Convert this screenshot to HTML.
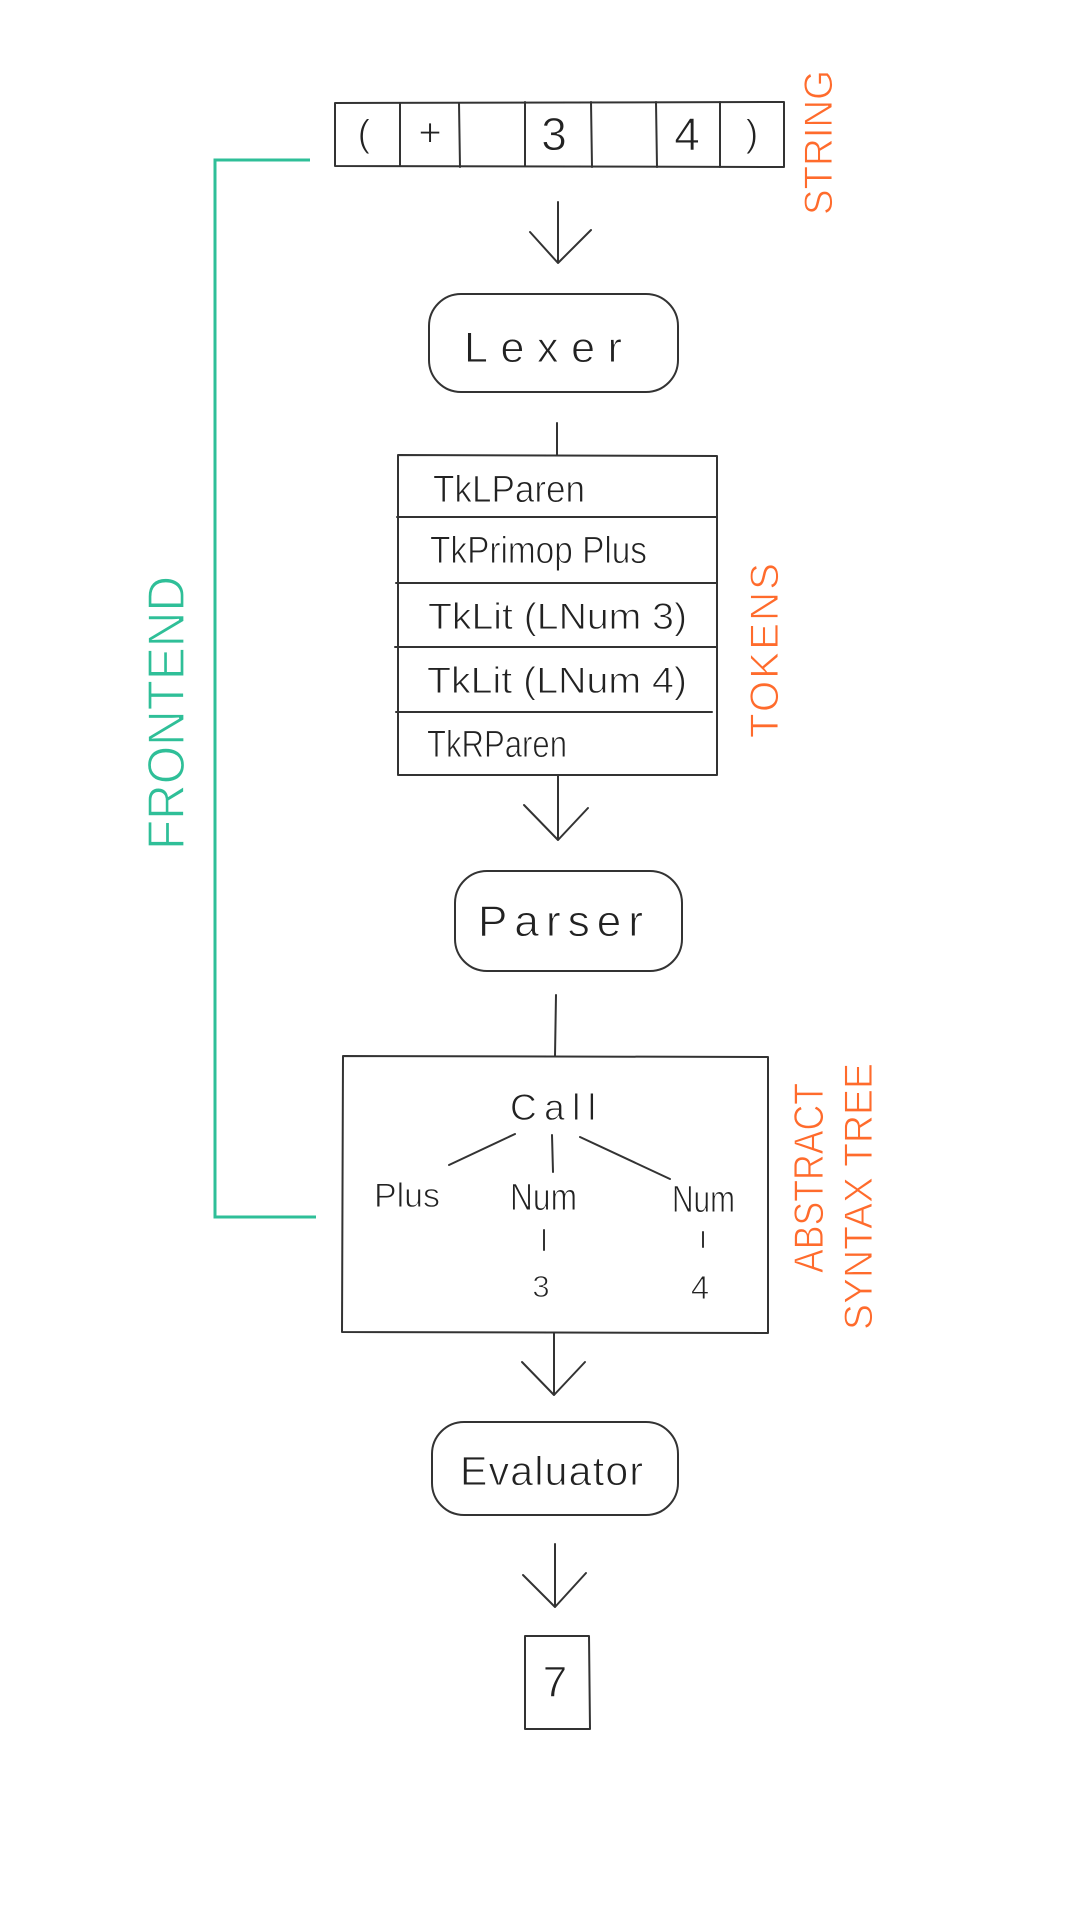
<!DOCTYPE html>
<html>
<head>
<meta charset="utf-8">
<style>
  html, body { margin:0; padding:0; background:#ffffff; }
  body { width:1080px; height:1920px; overflow:hidden; }
  svg { display:block; }
  .ln { stroke:#333; stroke-width:2; fill:none; stroke-linecap:round; stroke-linejoin:round; }
  .t { font-family:"Liberation Sans", sans-serif; fill:#222; stroke:#ffffff; stroke-width:0.9; }
  .o { font-family:"Liberation Sans", sans-serif; fill:#ff6b2c; stroke:#ffffff; stroke-width:0.9; }
  .g { font-family:"Liberation Sans", sans-serif; fill:#2fbf98; stroke:#ffffff; stroke-width:1.2; }
</style>
</head>
<body>
<svg width="1080" height="1920" viewBox="0 0 1080 1920" xmlns="http://www.w3.org/2000/svg">
  <rect x="0" y="0" width="1080" height="1920" fill="#ffffff"/>

  <!-- FRONTEND bracket -->
  <path d="M310 160 L215 160 L215 1217 L316 1217" stroke="#2fbf98" stroke-width="3" fill="none"/>
  <text class="g" font-size="52" transform="translate(184,850) rotate(-90)" x="0" y="0" textLength="274" lengthAdjust="spacingAndGlyphs">FRONTEND</text>

  <!-- STRING cells -->
  <path class="ln" d="M335 103 L784 102 L784 167 L335 166 Z"/>
  <path class="ln" d="M400 103 L400 166 M459 103 L460 167 M525 102 L525 166 M591 102 L592 167 M656 102 L657 167 M720 102 L720 167"/>
  <text class="t" font-size="38" x="364" y="146" text-anchor="middle">(</text>
  <text class="t" font-size="40" x="430" y="146" text-anchor="middle">+</text>
  <text class="t" font-size="46" x="554" y="150" text-anchor="middle">3</text>
  <text class="t" font-size="46" x="687" y="150" text-anchor="middle">4</text>
  <text class="t" font-size="38" x="752" y="146" text-anchor="middle">)</text>
  <text class="o" font-size="40" transform="translate(832,215) rotate(-90)" x="0" y="0" textLength="145" lengthAdjust="spacingAndGlyphs">STRING</text>

  <!-- Arrow 1 -->
  <path class="ln" d="M558 202 L558 263 M530 232 L558 263 L591 230"/>

  <!-- Lexer -->
  <rect class="ln" x="429" y="294" width="249" height="98" rx="32" ry="32"/>
  <text class="t" font-size="43" x="464" y="362" textLength="158" lengthAdjust="spacing">Lexer</text>

  <!-- line to tokens -->
  <path class="ln" d="M557 423 L557 455"/>

  <!-- Tokens -->
  <path class="ln" d="M398 455 L717 456 L717 775 L398 775 Z"/>
  <path class="ln" d="M397 517 L717 517 M396 583 L717 583 M395 647 L716 647 M396 712 L712 712"/>
  <text class="t" font-size="38" x="433" y="502" textLength="152" lengthAdjust="spacingAndGlyphs">TkLParen</text>
  <text class="t" font-size="38" x="430" y="563" textLength="217" lengthAdjust="spacingAndGlyphs">TkPrimop Plus</text>
  <text class="t" font-size="37" x="428" y="629" textLength="259" lengthAdjust="spacingAndGlyphs">TkLit (LNum 3)</text>
  <text class="t" font-size="37" x="427" y="693" textLength="260" lengthAdjust="spacingAndGlyphs">TkLit (LNum 4)</text>
  <text class="t" font-size="38" x="427" y="757" textLength="140" lengthAdjust="spacingAndGlyphs">TkRParen</text>
  <text class="o" font-size="40" transform="translate(778,738) rotate(-90)" x="0" y="0" textLength="175" lengthAdjust="spacing">TOKENS</text>

  <!-- Arrow 2 -->
  <path class="ln" d="M558 775 L558 840 M524 805 L558 840 L588 808"/>

  <!-- Parser -->
  <rect class="ln" x="455" y="871" width="227" height="100" rx="32" ry="32"/>
  <text class="t" font-size="44" x="478" y="936" textLength="165" lengthAdjust="spacing">Parser</text>

  <!-- line to AST -->
  <path class="ln" d="M556 995 L555 1056"/>

  <!-- AST box -->
  <path class="ln" d="M343 1056 L768 1057 L768 1333 L342 1332 Z"/>
  <text class="t" font-size="37" x="510" y="1120" textLength="86" lengthAdjust="spacing">Call</text>
  <path class="ln" d="M515 1134 L449 1165 M552 1135 L553 1172 M580 1137 L670 1179"/>
  <text class="t" font-size="34" x="374" y="1207" textLength="66" lengthAdjust="spacingAndGlyphs">Plus</text>
  <text class="t" font-size="38" x="510" y="1210" textLength="67" lengthAdjust="spacingAndGlyphs">Num</text>
  <text class="t" font-size="38" x="672" y="1212" textLength="63" lengthAdjust="spacingAndGlyphs">Num</text>
  <path class="ln" d="M544 1230 L544 1250 M703 1232 L703 1247"/>
  <text class="t" font-size="31" x="541" y="1297" text-anchor="middle">3</text>
  <text class="t" font-size="33" x="700" y="1299" text-anchor="middle">4</text>
  <text class="o" font-size="42" transform="translate(823,1273) rotate(-90)" x="0" y="0" textLength="190" lengthAdjust="spacingAndGlyphs">ABSTRACT</text>
  <text class="o" font-size="40" transform="translate(872,1330) rotate(-90)" x="0" y="0" textLength="267" lengthAdjust="spacingAndGlyphs">SYNTAX TREE</text>

  <!-- Arrow 3 -->
  <path class="ln" d="M554 1333 L554 1395 M522 1362 L554 1395 L585 1362"/>

  <!-- Evaluator -->
  <rect class="ln" x="432" y="1422" width="246" height="93" rx="32" ry="32"/>
  <text class="t" font-size="41" x="460" y="1485" textLength="183" lengthAdjust="spacing">Evaluator</text>

  <!-- Arrow 4 -->
  <path class="ln" d="M555 1544 L555 1607 M523 1575 L555 1607 L586 1573"/>

  <!-- Result 7 -->
  <path class="ln" d="M525 1636 L589 1636 L590 1729 L525 1729 Z"/>
  <text class="t" font-size="44" x="555" y="1697" text-anchor="middle">7</text>
</svg>
</body>
</html>
